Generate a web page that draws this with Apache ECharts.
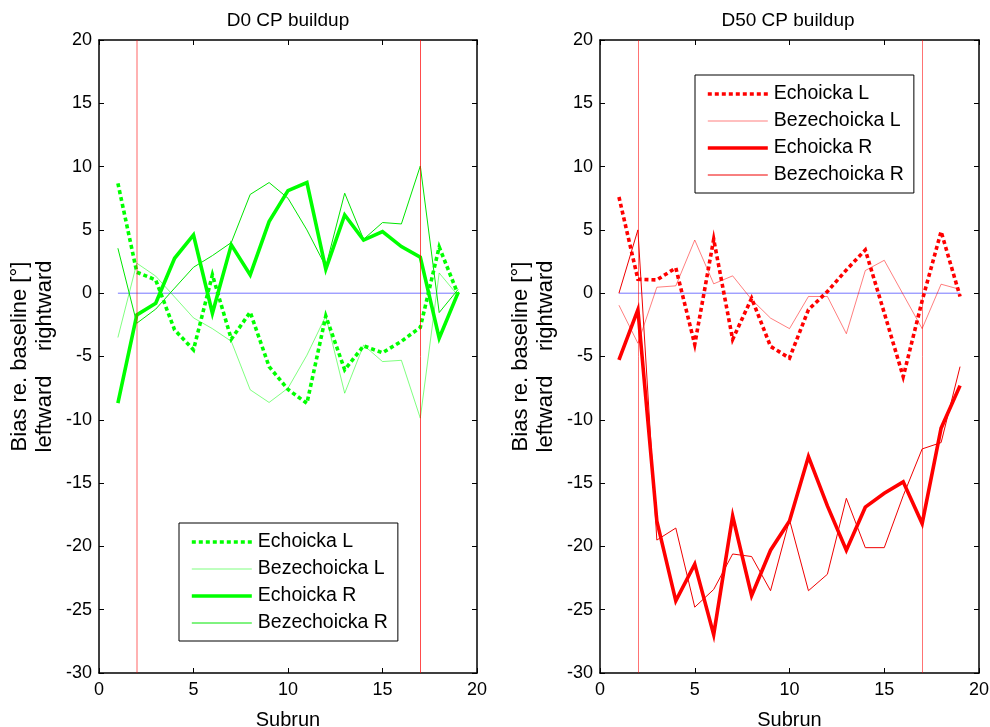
<!DOCTYPE html>
<html>
<head>
<meta charset="utf-8">
<script src="https://cdn.jsdelivr.net/npm/echarts@6/dist/echarts.min.js"></script>
<style>
  html, body { margin: 0; padding: 0; background: #fff; }
  #chart { width: 990px; height: 727px; }
</style>
</head>
<body>
<div id="chart"></div>
<script>
// Subrun indices shared by both panels
const subruns = [1, 2, 3, 4, 5, 6, 7, 8, 9, 10, 11, 12, 13, 14, 15, 16, 17, 18, 19];

// D0 CP buildup (left panel)
const d0EchoL = [8.68, 1.66, 1.05, -2.9, -4.47, 1.45, -3.63, -1.5, -5.8, -7.6, -8.7, -1.8, -6.05, -4.16, -4.7, -3.8, -2.7, 3.65, -0.1];
const d0BezL  = [-3.5, 2.37, 1.35, -0.3, -1.95, -2.8, -3.8, -7.63, -8.63, -7.5, -4.9, -1.8, -7.9, -4.1, -5.4, -5.3, -9.87, 1.6, -0.2];
const d0EchoR = [-8.68, -1.71, -0.79, 2.76, 4.6, -1.58, 3.82, 1.45, 5.66, 8.1, 8.74, 1.9, 6.18, 4.2, 4.87, 3.68, 2.85, -3.55, 0.05];
const d0BezR  = [3.55, -2.37, -1.26, 0.4, 2.05, 2.97, 4.0, 7.8, 8.74, 7.5, 5.0, 2.1, 7.9, 4.26, 5.58, 5.47, 10.05, -1.53, 0.3];

// D50 CP buildup (right panel)
const d50EchoL = [7.6, 1.1, 1.05, 2.0, -4.05, 4.26, -3.65, -0.4, -4.2, -5.13, -1.3, 0.13, 1.84, 3.42, -1.55, -6.6, -0.6, 4.87, -0.26];
const d50BezL  = [-0.95, -3.95, 0.47, 0.58, 4.2, 0.74, 1.37, -0.5, -1.97, -2.8, -0.26, -0.26, -3.2, 1.79, 2.6, -0.1, -2.8, 0.71, 0.3];
const d50EchoR = [-5.27, -1.3, -18.0, -24.3, -21.4, -26.97, -17.6, -23.9, -20.3, -18.0, -12.9, -16.8, -20.3, -16.9, -15.8, -14.9, -18.2, -10.66, -7.3];
const d50BezR  = [0, 5.0, -19.5, -18.55, -24.8, -23.4, -20.6, -20.8, -23.5, -17.9, -23.5, -22.2, -16.2, -20.1, -20.1, -16.0, -12.3, -11.8, -5.8];

// Reference markers: phase boundaries and the zero-bias baseline
const phaseBounds = [2, 17];
const baselineX = [1, 19];
const baselineY = 0;

// Legend labels and axis texts
const legendLabels = ['Echoicka L', 'Bezechoicka L', 'Echoicka R', 'Bezechoicka R'];
const panelTitles = ['D0 CP buildup', 'D50 CP buildup'];
const xName = 'Subrun';
const yName = 'Bias re. baseline [°]\nleftward    rightward';

const FONT = 'Liberation Sans, Arial, Helvetica, sans-serif';

const pairs = ys => subruns.map((x, i) => [x, ys[i]]);

// fixed plot boxes; labels may sit outside them without shrinking the box
const grids = [
  { left: 99, top: 40, width: 378, height: 633, outerBoundsMode: 'none', containLabel: false },
  { left: 600, top: 40, width: 379, height: 633, outerBoundsMode: 'none', containLabel: false }
];

function axesFor(gi) {
  const xBase = {
    gridIndex: gi, type: 'value', min: 0, max: 20, interval: 5,
    axisLine: { show: true, onZero: false, lineStyle: { color: '#000', width: 1.5 } },
    axisTick: { show: true, inside: true, length: 5, lineStyle: { color: '#000', width: 1 } },
    splitLine: { show: false }
  };
  const yBase = {
    gridIndex: gi, type: 'value', min: -30, max: 20, interval: 5,
    axisLine: { show: true, onZero: false, lineStyle: { color: '#000', width: 1.5 } },
    axisTick: { show: true, inside: true, length: 5, lineStyle: { color: '#000', width: 1 } },
    splitLine: { show: false }
  };
  return {
    x: [
      Object.assign({}, xBase, {
        position: 'bottom',
        axisLabel: { color: '#000', fontSize: 18, fontFamily: FONT, margin: 8 },
        name: xName, nameLocation: 'middle', nameGap: 37,
        nameTextStyle: { color: '#000', fontSize: 20, fontFamily: FONT }
      }),
      Object.assign({}, xBase, { position: 'top', axisLabel: { show: false } })
    ],
    y: [
      Object.assign({}, yBase, {
        position: 'left',
        axisLabel: { color: '#000', fontSize: 18, fontFamily: FONT, margin: 7 },
        name: yName, nameLocation: 'middle', nameRotate: 90, nameGap: 42,
        nameTextStyle: { color: '#000', fontSize: 22, fontFamily: FONT, lineHeight: 25, align: 'center' }
      }),
      Object.assign({}, yBase, { position: 'right', axisLabel: { show: false } })
    ]
  };
}

const a0 = axesFor(0), a1 = axesFor(1);
const xAxes = [a0.x[0], a0.x[1], a1.x[0], a1.x[1]];
const yAxes = [a0.y[0], a0.y[1], a1.y[0], a1.y[1]];

function lineSeries(name, data, axisIdx, color, width, type, opacity, z) {
  return {
    name: name, type: 'line', xAxisIndex: axisIdx, yAxisIndex: axisIdx,
    data: pairs(data), symbol: 'none', showSymbol: false, silent: true,
    animation: false, z: z,
    lineStyle: { color: color, width: width, type: type, opacity: opacity, cap: 'butt', join: 'miter' },
    itemStyle: { color: color, opacity: opacity }
  };
}

function referenceSeries(axisIdx, boundStyles) {
  return {
    name: 'baseline' + axisIdx, type: 'line', xAxisIndex: axisIdx, yAxisIndex: axisIdx,
    data: baselineX.map(x => [x, baselineY]), symbol: 'none', silent: true, animation: false, z: 1,
    lineStyle: { color: '#3a3aff', width: 1, opacity: 0.7 },
    markLine: {
      silent: true, symbol: ['none', 'none'], animation: false,
      label: { show: false },
      data: phaseBounds.map((b, i) => ({ xAxis: b, lineStyle: boundStyles[i] }))
    }
  };
}

const dotted = [4, 3];
const GREEN = '#00ff00', RED = '#ff0000';

const series = [
  referenceSeries(0, [
    { color: '#ff0000', width: 2, type: 'solid', opacity: 0.3 },
    { color: '#ff0000', width: 1, type: 'solid', opacity: 0.7 }
  ]),
  lineSeries('D0 ' + legendLabels[0], d0EchoL, 0, GREEN, 3.6, dotted, 1, 3),
  lineSeries('D0 ' + legendLabels[1], d0BezL, 0, GREEN, 1, 'solid', 0.5, 2),
  lineSeries('D0 ' + legendLabels[2], d0EchoR, 0, GREEN, 3.6, 'solid', 1, 3),
  lineSeries('D0 ' + legendLabels[3], d0BezR, 0, '#00e600', 1, 'solid', 1, 2),

  referenceSeries(2, [
    { color: '#ff0000', width: 1, type: 'solid', opacity: 0.55 },
    { color: '#ff0000', width: 1, type: 'solid', opacity: 0.55 }
  ]),
  lineSeries('D50 ' + legendLabels[0], d50EchoL, 2, RED, 3.6, dotted, 1, 3),
  lineSeries('D50 ' + legendLabels[1], d50BezL, 2, RED, 1, 'solid', 0.5, 2),
  lineSeries('D50 ' + legendLabels[2], d50EchoR, 2, RED, 3.6, 'solid', 1, 3),
  lineSeries('D50 ' + legendLabels[3], d50BezR, 2, '#f00000', 1, 'solid', 1, 2)
];

function legendFor(prefix, left, top) {
  return {
    orient: 'vertical', left: left, top: top,
    data: legendLabels.map(l => prefix + l),
    formatter: n => n.slice(prefix.length),
    selectedMode: false,
    backgroundColor: '#fff', borderColor: '#000', borderWidth: 1,
    padding: [9, 10, 8, 11],
    itemWidth: 60, itemHeight: 14, itemGap: 7,
    // line-only keys with each series' own stroke width; marker glyph hidden
    lineStyle: { width: 'inherit' },
    itemStyle: { opacity: 0, borderWidth: 0 },
    textStyle: { color: '#000', fontSize: 19.5, lineHeight: 20, fontFamily: FONT, padding: [0, 0, 0, 1] }
  };
}

const option = {
  backgroundColor: '#fff',
  animation: false,
  title: panelTitles.map((t, i) => ({
    text: t,
    left: i === 0 ? 283 : 783,
    top: 6,
    textAlign: 'center',
    textStyle: { color: '#000', fontSize: 19, fontWeight: 'normal', fontFamily: FONT }
  })),
  grid: grids,
  xAxis: xAxes,
  yAxis: yAxes,
  legend: [legendFor('D0 ', 179, 523), legendFor('D50 ', 695, 75)],
  series: series
};

const chart = echarts.init(document.getElementById('chart'), null, { renderer: 'canvas' });
chart.setOption(option);
</script>
</body>
</html>
